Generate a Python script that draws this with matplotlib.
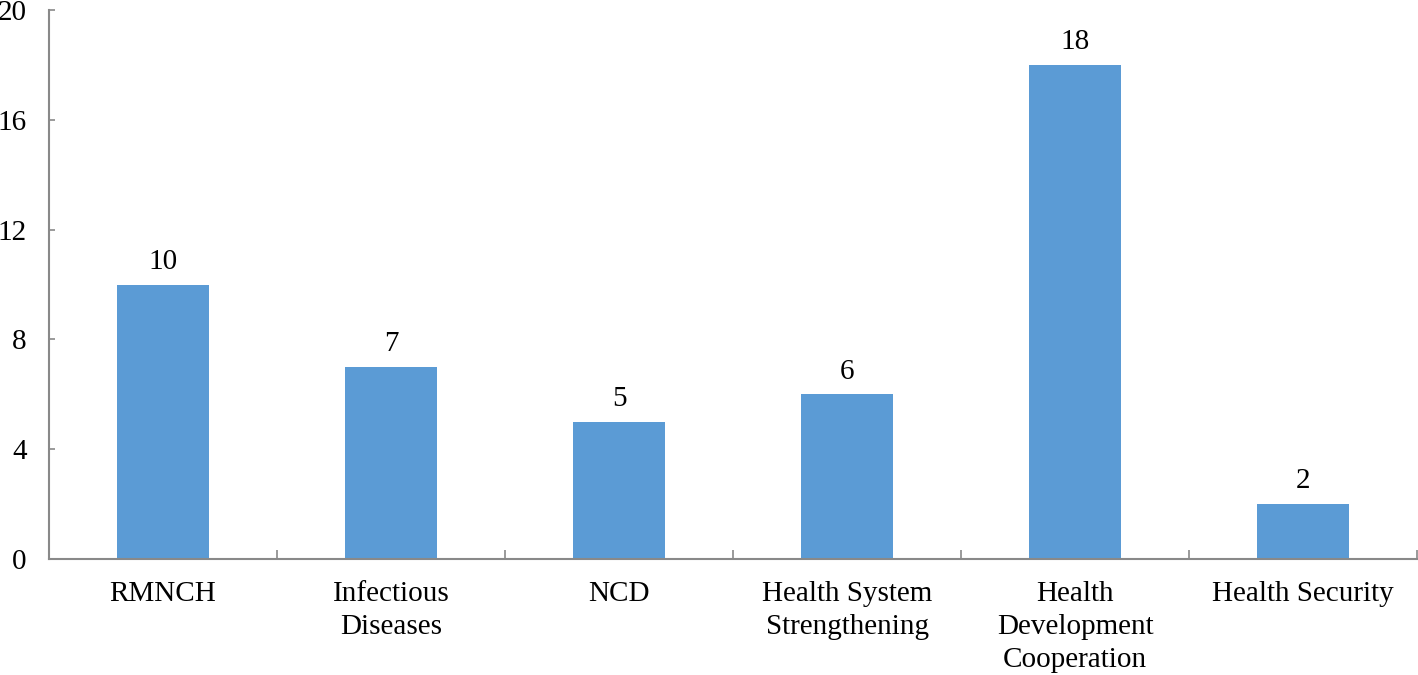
import numpy as np
import matplotlib
matplotlib.use('Agg')
import matplotlib.pyplot as plt

# Datos del gráfico
categorias = ['RMNCH', 'Infectious\nDiseases', 'NCD', 'Health System\nStrengthening',
              'Health\nDevelopment\nCooperation', 'Health Security']
valores = [10, 7, 5, 6, 18, 2]
ticks_y = [0, 4, 8, 12, 16, 20]

plt.rcParams['font.family'] = ['Liberation Serif', 'DejaVu Serif']

fig = plt.figure(figsize=(14.18, 6.75), dpi=100)
ax = fig.add_axes([49 / 1418, 116 / 675, 1368 / 1418, 549 / 675])

x = np.arange(len(categorias))
ax.bar(x, valores, width=0.4, color='#5B9BD5', zorder=2)

for xi, v in zip(x, valores):
    ax.annotate(str(v), (xi, v), xytext=(0, 7), textcoords='offset points',
                ha='center', va='bottom', fontsize=21)

ax.set_xlim(-0.5, len(categorias) - 0.5)
ax.set_ylim(0, 20)
ax.set_yticks(ticks_y)
ax.set_xticks(x)
ax.set_xticklabels(categorias, linespacing=1.35)
ax.set_xticks(np.arange(-0.5, len(categorias)), minor=True)

for s in ['top', 'right']:
    ax.spines[s].set_visible(False)
for s in ['left', 'bottom']:
    ax.spines[s].set_color('#898989')
    ax.spines[s].set_linewidth(1.5)

ax.tick_params(axis='x', which='major', length=0, pad=16, labelsize=21)
ax.tick_params(axis='x', which='minor', direction='in', length=6.5, width=1.2, color='#898989')
ax.tick_params(axis='y', direction='in', length=4.5, width=1.2, color='#898989',
               pad=16, labelsize=21)

fig.savefig('out.png', dpi=100)
